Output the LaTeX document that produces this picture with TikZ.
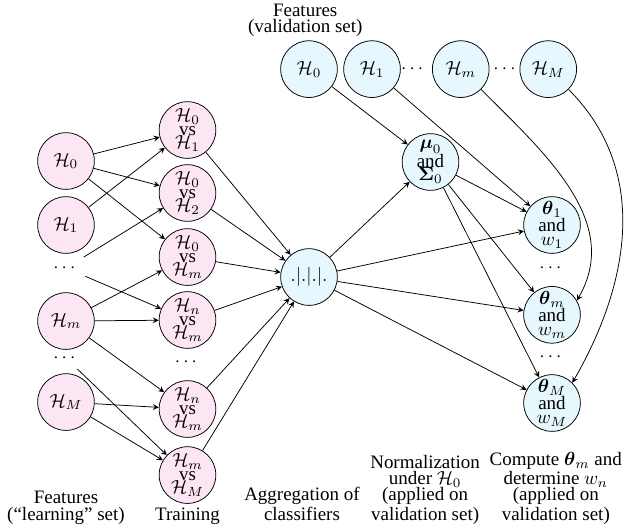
\documentclass[tikz,border=0pt]{standalone}
\usepackage{amssymb}
\usepackage{amsmath}
\usepackage{fontspec}
\setmainfont{Liberation Serif}
\usetikzlibrary{calc}
\usetikzlibrary{arrows}

\begin{document}
\begin{tikzpicture}[>=stealth,
  learn/.style={circle, draw, fill=magenta!10, minimum size=1.05cm, inner sep=0pt,
    align=center, font=\fontsize{10}{7.2}\selectfont,
    execute at begin node={\lineskip=0.4pt}},
  valid/.style={learn, fill=cyan!10},
  lbl/.style={align=center, inner sep=0pt, font=\fontsize{10}{8.5}\selectfont}]
  \useasboundingbox (-1.222,-4.667) rectangle (10.407,5.13);

  \node[learn] (l0) at (0,2.148) {$\mathcal{H}_0$};
  \node[learn] (l1) at (0,0.963) {$\mathcal{H}_1$};
  \node (ld1) at (0,0.167) {$\cdots$};
  \node[learn] (lm) at (0,-0.815) {$\mathcal{H}_m$};
  \node (ld2) at (0,-1.5) {$\cdots$};
  \node[learn] (lM) at (0,-2.315) {$\mathcal{H}_M$};

  \node[learn] (t01) at (2.25,2.722) {$\mathcal{H}_0$\\vs\\$\mathcal{H}_1$};
  \node[learn] (t02) at (2.25,1.556) {$\mathcal{H}_0$\\vs\\$\mathcal{H}_2$};
  \node[learn] (t0m) at (2.25,0.370) {$\mathcal{H}_0$\\vs\\$\mathcal{H}_m$};
  \node[learn] (tnm) at (2.25,-0.796) {$\mathcal{H}_n$\\vs\\$\mathcal{H}_m$};
  \node (td) at (2.25,-1.574) {$\cdots$};
  \node[learn] (tnm2) at (2.25,-2.444) {$\mathcal{H}_n$\\vs\\$\mathcal{H}_m$};
  \node[learn] (tmM) at (2.25,-3.667) {$\mathcal{H}_m$\\vs\\$\mathcal{H}_M$};

  \node[valid] (agg) at (4.5,0) {$.|.|.|.$};

  \node[valid] (v0) at (4.5,3.85) {$\mathcal{H}_0$};
  \node[valid] (v1) at (5.667,3.85) {$\mathcal{H}_1$};
  \node (vd1) at (6.44,3.85) {$\cdots$};
  \node[valid] (vm) at (7.31,3.85) {$\mathcal{H}_m$};
  \node (vd2) at (8.15,3.85) {$\cdots$};
  \node[valid] (vM) at (8.93,3.85) {$\mathcal{H}_M$};

  \node[valid] (mu) at (6.75,2.13) {$\boldsymbol{\mu}_0$\\and\\$\boldsymbol{\Sigma}_0$};

  \node[valid] (th1) at (9,0.963) {$\boldsymbol{\theta}_1$\\and\\$w_1$};
  \node (thd1) at (9,0.167) {$\cdots$};
  \node[valid] (thm) at (9,-0.7) {$\boldsymbol{\theta}_m$\\and\\$w_m$};
  \node (thd2) at (9,-1.48) {$\cdots$};
  \node[valid] (thM) at (9,-2.333) {$\boldsymbol{\theta}_M$\\and\\$w_M$};

  \node[lbl, anchor=north] (tvalid) at (4.43,5.07) {Features\\(validation set)};
  \node[lbl, anchor=base] (tlearn) at (0,-4.5) {Features\\(``learning'' set)};
  \node[lbl, anchor=base] (ttrain) at (2.25,-4.5) {Training};
  \node[lbl, anchor=base] (taggr) at (4.37,-4.5) {Aggregation of\\classifiers};
  \node[lbl, anchor=base] (tnorm) at (6.65,-4.5) {Normalization\\under $\mathcal{H}_0$\\(applied on\\validation set)};
  \node[lbl, anchor=base] (tcomp) at (9.07,-4.5) {Compute $\boldsymbol{\theta}_m$ and\\determine $w_n$\\(applied on\\validation set)};

  \draw[->] (l0) -- (t01);
  \draw[->] (l0) -- (t02);
  \draw[->] (l0) -- (t0m);
  \draw[->] (l1) -- (t01);
  \draw[->] (ld1) -- (t02);
  \draw[->] (ld1) -- (tnm);
  \draw[->] (lm) -- (t0m);
  \draw[->] (lm) -- (tnm);
  \draw[->] (lm) -- (tnm2);
  \draw[->] (ld2) -- (tmM);
  \draw[->] (lM) -- (tnm2);
  \draw[->] (lM) -- (tmM);

  \foreach \t in {t01,t02,t0m,tnm,tnm2,tmM}
    \draw[->] (\t) -- (agg);

  \draw[->] (agg) -- (mu);
  \draw[->] (v0) -- (mu);
  \foreach \t in {th1,thm,thM} {
    \draw[->] (agg) -- (\t);
    \draw[->] (mu) -- (\t);
  }
  \draw[->] (v1) -- (th1);
  \draw[->] (vm) to[out=-45,in=60] (thm.30);
  \draw[->] (vM) to[out=-45,in=60] (thM.45);
\end{tikzpicture}
\end{document}
